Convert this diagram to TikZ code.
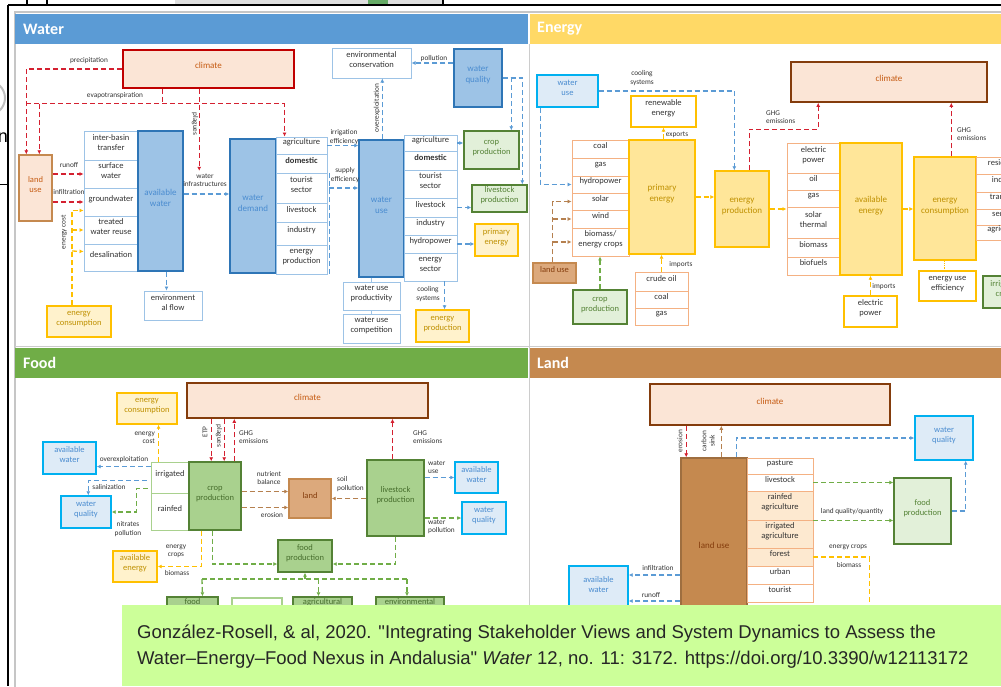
\documentclass[tikz,border=0pt]{standalone}
\usepackage{fontspec}
\setmainfont{Carlito}
\newfontfamily\citefont{Liberation Sans}
\usetikzlibrary{arrows.meta}
\usetikzlibrary{fit}

\definecolor{waterhead}{HTML}{5B9BD5}
\definecolor{energyhead}{HTML}{FFD966}
\definecolor{foodhead}{HTML}{70AD47}
\definecolor{landhead}{HTML}{C5894F}
\definecolor{wfill}{HTML}{9DC3E6}
\definecolor{wdraw}{HTML}{2E75B6}
\definecolor{wtext}{HTML}{4A8CD0}
\definecolor{wline}{HTML}{9DC3E6}
\definecolor{cyanline}{HTML}{00B0F0}
\definecolor{wlight}{HTML}{DEEBF7}
\definecolor{clfill}{HTML}{FBE5D6}
\definecolor{clred}{HTML}{C00000}
\definecolor{clbrown}{HTML}{843C0C}
\definecolor{cltext}{HTML}{C55A11}
\definecolor{efill}{HTML}{FFE699}
\definecolor{edraw}{HTML}{FFC000}
\definecolor{etext}{HTML}{BF9000}
\definecolor{elight}{HTML}{FFF2CC}
\definecolor{eline}{HTML}{F4B183}
\definecolor{glight}{HTML}{E2F0D9}
\definecolor{gmid}{HTML}{A9D18E}
\definecolor{gdraw}{HTML}{548235}
\definecolor{ldraw}{HTML}{C5894F}
\definecolor{lfill}{HTML}{DCA97C}
\definecolor{lpeach}{HTML}{FDE9D0}
\definecolor{reddash}{HTML}{D42030}
\definecolor{bluedash}{HTML}{5B9BD5}
\definecolor{yellowdash}{HTML}{FFC000}
\definecolor{greendash}{HTML}{70AD47}
\definecolor{browndash}{HTML}{B5804F}
\definecolor{citegreen}{HTML}{CCFF99}

\tikzset{
  every node/.style={inner sep=0pt, align=center, text=black!80, font=\fontsize{8.5}{10}\selectfont},
  headtxt/.style={anchor=west, text=white, font=\fontsize{16}{16}\selectfont\bfseries},
  lab/.style={font=\fontsize{7.3}{8.3}\selectfont},
  wbig/.style={draw=wdraw, fill=wfill, line width=1.4pt, text=wtext, font=\fontsize{9}{11}\selectfont},
  witem/.style={draw=wline, fill=white, line width=0.9pt, text width=#1, align=left},
  witem/.default=47pt,
  wwhite/.style={draw=wline, fill=white, line width=1pt},
  wlite/.style={draw=cyanline, fill=wlight, line width=1.4pt, text=wtext},
  clim/.style={draw=#1, fill=clfill, line width=1.6pt, text=cltext, font=\fontsize{9}{11}\selectfont},
  ebig/.style={draw=edraw, fill=efill, line width=1.4pt, text=etext, font=\fontsize{9}{11}\selectfont},
  elite/.style={draw=edraw, fill=elight, line width=1.4pt, text=etext},
  ewhite/.style={draw=edraw, fill=white, line width=1.2pt},
  eitem/.style={draw=eline, fill=white, line width=0.9pt},
  glite/.style={draw=gdraw, fill=glight, line width=1.4pt, text=gdraw},
  gbig/.style={draw=gdraw, fill=gmid, line width=1.4pt, text=gdraw!85!black},
  gitem/.style={draw=gmid, fill=white, line width=0.9pt, text width=33pt, align=left},
  lbox/.style={draw=ldraw, fill=lfill, line width=1.4pt, text=clbrown},
  lbig/.style={draw=ldraw!80!black, fill=landhead, line width=1.4pt, text=clbrown, font=\fontsize{9}{11}\selectfont},
  litem/.style={draw=eline, fill=#1, line width=0.9pt, text width=60pt, align=left},
  litem/.default=white,
  redarr/.style={draw=reddash, line width=1.3pt, dash pattern=on 5pt off 3pt, ->},
  bluearr/.style={draw=bluedash, line width=1.3pt, dash pattern=on 5pt off 3pt, ->},
  yelarr/.style={draw=yellowdash, line width=1.3pt, dash pattern=on 5pt off 3pt, ->},
  grnarr/.style={draw=greendash, line width=1.3pt, dash pattern=on 5pt off 3pt, ->},
  brnarr/.style={draw=browndash, line width=1.3pt, dash pattern=on 5pt off 3pt, ->},
}

\begin{document}
\begin{tikzpicture}[x=1pt, y=-1pt, >={Latex[length=4pt,width=4pt]}]
\useasboundingbox (0,0) rectangle (1001,686);
\clip (0,0) rectangle (1001,686);

% screenshot frame
\fill[white] (0,0) rectangle (1001,686);
\fill[gray!25] (175,0) rectangle (443,5);
\fill[green!45!black!60] (368,0) rectangle (388,5);
\draw[black, line width=2pt] (8,5) -- (1001,5);
\draw[black, line width=1.5pt] (8,5) -- (8,686);
\draw[black, line width=1.5pt] (27,0) -- (27,5) (47,0) -- (47,5) (443,0) -- (443,5);
\draw[black, line width=1pt] (0,184) -- (8,184);
\draw[gray!50, line width=2pt] (-12,98) circle (17);
\node[font=\citefont\fontsize{18}{18}\selectfont, text=black] (nchar) at (3,138) {n};
\draw[gray!45, line width=1.2pt] (15,12) rectangle (1010,700);
\draw[gray!40, line width=1pt] (529,44) -- (529,640);
\draw[gray!40, line width=1pt] (15,346) -- (1001,346);

% ---------------- Water ----------------
\fill[waterhead] (15,14) rectangle (528,44);
\node[headtxt] (hwater) at (23,29) {Water};

\node[clim=clred, fit={(123,50)(294,88)}] (wclim) {climate};
\node[draw=ldraw, fill=clfill, line width=1.4pt, text=cltext, fit={(19,155)(52,221)}] (wland) {land\\use};

\node[witem, fit={(84,131)(138,160)}] (ibt) {inter-basin\\transfer};
\node[witem, fit={(84,160)(138,188)}] (sw) {surface\\water};
\node[witem, fit={(84,188)(138,216)}] (gw) {groundwater};
\node[witem, fit={(84,216)(138,244)}] (twr) {treated\\water reuse};
\node[witem, fit={(84,244)(138,271)}] (desal) {desalination};
\node[wbig, fit={(138,131)(183,271)}] (avw) {available\\water};
\node[wwhite, fit={(144,291)(202,320)}] (envflow) {environment\\al flow};
\node[elite, fit={(47,306)(111,337)}] (wecons) {energy\\consumption};

\node[wbig, fit={(230,139)(276,273)}] (wdem) {water\\demand};
\node[witem=45pt, fit={(276,137)(327,154)}] (dagr) {agriculture};
\node[witem=45pt, fit={(276,154)(327,173)}] (ddom) {\textbf{domestic}};
\node[witem=45pt, fit={(276,173)(327,203)}] (dtour) {tourist\\sector};
\node[witem=45pt, fit={(276,203)(327,222)}] (dlive) {livestock};
\node[witem=45pt, fit={(276,222)(327,245)}] (dind) {industry};
\node[witem=45pt, fit={(276,245)(327,274)}] (deprod) {energy\\production};

\node[wbig, fit={(359,140)(404,277)}] (wuse) {water\\use};
\node[witem, fit={(404,135)(457,151)}] (uagr) {agriculture};
\node[witem, fit={(404,151)(457,170)}] (udom) {\textbf{domestic}};
\node[witem, fit={(404,170)(457,198)}] (utour) {tourist\\sector};
\node[witem, fit={(404,198)(457,217)}] (ulive) {livestock};
\node[witem, fit={(404,217)(457,235)}] (uind) {industry};
\node[witem, fit={(404,235)(457,253)}] (uhydro) {hydropower};
\node[witem, fit={(404,253)(457,281)}] (uesec) {energy\\sector};

\node[wwhite, fit={(332,48)(411,78)}] (envcons) {environmental\\conservation};
\node[wbig, fit={(454,49)(502,107)}] (wqual) {water\\quality};
\node[glite, fit={(464,131)(519,169)}] (wcrop) {crop\\production};
\node[glite, fit={(472,185)(527,212)}] (wlivest) {livestock\\production};
\node[elite, fit={(475,224)(518,256)}] (wprim) {primary\\energy};
\node[elite, fit={(416,310)(469,342)}] (weprod) {energy\\production};
\node[wwhite, fit={(343,282)(400,310)}] (wup) {water use\\productivity};
\node[wwhite, fit={(343,314)(400,343)}] (wuc) {water use\\competition};

\coordinate (precx) at ([xshift=8pt]wland.north west);
\coordinate (evapx) at ([xshift=21pt]wland.north west);
\coordinate (evap) at ([xshift=40pt,yshift=-15pt]wclim.south west);
\coordinate (plg) at ([xshift=77pt]wclim.south west);
\draw[redarr] (wclim.west) -| (precx);
\draw[redarr,-] ([xshift=40pt]wclim.south west) -- (evap);
\draw[redarr] (precx |- evap) -| ([xshift=9pt]dagr.north west);
\draw[redarr] (evapx |- evap) -- (evapx);
\draw[redarr] (plg) -- ++(0,82);
\node[lab] (lprec) at (89,61) {precipitation};
\node[lab] (levap) at (115,96) {evapotranspiration};
\node[lab, rotate=-90] (lplag) at (195,124) {plagues};

\draw[redarr] (wland.east |- sw.west) -- (sw.west);
\draw[redarr] (wland.east |- gw.west) -- (gw.west);
\node[lab] (lrun) at (69,165) {runoff};
\node[lab] (linf) at (69,192) {infiltration};

\coordinate (ecv) at ([xshift=-7pt]wecons.north);
\draw[yelarr] (ecv) |- ([yshift=6pt]gw.south west);
\draw[yelarr] (ecv |- twr.west) -- (twr.west);
\draw[yelarr] (ecv |- 0,251) -- ([yshift=6pt]desal.west);
\node[lab, rotate=90] (lecost) at (64,232) {energy cost};

\draw[bluearr] (avw.east |- 0,194) -- (wdem.west |- 0,194);
\node[lab] (linfra) at (205,180) {water\\infrastructures};
\draw[bluearr] ([xshift=6pt]avw.south) -- ([xshift=6pt]avw.south |- envflow.north);

\draw[bluearr] (dagr.east) -- (wuse.west |- dagr.east);
\node[lab] (lirreff) at (344,137) {irrigation\\efficiency};
\draw[bluearr,-] ([xshift=2pt]ddom.south east) -- ([xshift=2pt]deprod.south east);
\draw[bluearr] ([xshift=2pt]dtour.east) -- (wuse.west |- dtour.east);
\node[lab] (lsupeff) at (345,175) {supply\\efficiency};

\draw[bluearr] ([xshift=24pt]wuse.north west) -- ([xshift=24pt]wuse.north west |- envcons.south);
\node[lab, rotate=90] (loverw) at (377,108) {overexploitation};
\draw[bluearr] (wqual.west |- envcons.east) -- (envcons.east);
\node[lab] (lpoll) at (434,59) {pollution};
\draw[bluearr] (wqual.east) -| ([xshift=48pt]wcrop.north west);
\draw[bluearr] (wqual.east) -| ([xshift=51pt]wlivest.north west);

\draw[bluearr] (uagr.east) -- (wcrop.west |- uagr.east);
\draw[bluearr] (ulive.east) -- (wlivest.west |- ulive.east);
\draw[bluearr] (uhydro.east) -- (wprim.west |- uhydro.east);
\draw[bluearr] ([xshift=41pt]uesec.south west) -- ([xshift=41pt]uesec.south west |- weprod.north);
\node[lab] (lcoolw) at (428,294) {cooling\\systems};
\draw[wline, line width=1pt] (wuse.south -| wup.north) -- (wup.north);
\draw[wline, line width=1pt] (wup.south) -- (wuc.north);

% ---------------- Energy ----------------
\fill[energyhead] (530,14) rectangle (1001,44);
\node[headtxt] (henergy) at (537,29) {Energy};

\node[wlite, fit={(537,75)(598,107)}] (ewuse) {water\\use};
\node[ewhite, fit={(631,96)(696,127)}] (renew) {renewable\\energy};
\node[eitem, fit={(572,140)(629,158)}] (ecoal) {coal};
\node[eitem, fit={(572,158)(629,176)}] (egas) {gas};
\node[eitem, fit={(572,176)(629,193)}] (ehydro) {hydropower};
\node[eitem, fit={(572,193)(629,210)}] (esolar) {solar};
\node[eitem, fit={(572,210)(629,228)}] (ewind) {wind};
\node[eitem, fit={(572,228)(629,256)}] (ebio) {biomass/\\energy crops};
\node[ebig, fit={(629,140)(695,254)}] (prim) {primary\\energy};
\node[ebig, fit={(715,171)(769,247)}] (eprod) {energy\\production};
\node[lbox, fit={(533,263)(576,283)}] (eland) {land use};
\node[glite, fit={(573,290)(627,324)}] (ecrop) {crop\\production};
\node[eitem, fit={(635,272)(688,291)}] (icrude) {crude oil};
\node[eitem, fit={(635,291)(688,308)}] (icoal) {coal};
\node[eitem, fit={(635,308)(688,325)}] (igas) {gas};

\node[clim=clbrown, fit={(791,62)(987,102)}] (eclim) {climate};
\node[eitem, fit={(787,143)(840,173)}] (selec) {electric\\power};
\node[eitem, fit={(787,173)(840,190)}] (soil) {oil};
\node[eitem, fit={(787,190)(840,207)}] (sgas) {gas};
\node[eitem, fit={(787,207)(840,238)}] (ssolar) {solar\\thermal};
\node[eitem, fit={(787,238)(840,257)}] (sbiom) {biomass};
\node[eitem, fit={(787,257)(840,275)}] (sbiof) {biofuels};
\node[ebig, fit={(840,143)(902,275)}] (avail) {available\\energy};
\node[ebig, fit={(914,157)(976,260)}] (econs) {energy\\consumption};
\node[eitem, fit={(976,157)(1036,174)}] (cres) {residential};
\node[eitem, fit={(976,174)(1036,192)}] (cind) {industry};
\node[eitem, fit={(976,192)(1036,209)}] (ctra) {transport};
\node[eitem, fit={(976,209)(1036,225)}] (cser) {services};
\node[eitem, fit={(976,225)(1036,240)}] (cagr) {agriculture};
\node[ewhite, fit={(919,271)(976,301)}] (euse) {energy use\\efficiency};
\node[ewhite, fit={(844,296)(897,327)}] (eelec) {electric\\power};
\node[glite, fit={(983,276)(1027,308)}] (eirr) {irrigated\\crops};

\draw[bluearr] (ewuse.east) -| ([xshift=20pt]eprod.north west);
\node[lab] (lcoole) at (642,78) {cooling\\systems};
\draw[bluearr] ([xshift=4pt]ewuse.south west) |- (ehydro.west);
\draw[yelarr] (prim.north -| renew.south) -- (renew.south);
\node[lab] (lexp) at (677,135) {exports};
\draw[yelarr] (prim.east |- 0,197) -- (eprod.west |- 0,197);
\coordinate (elv) at ([xshift=-2pt]eland.north);
\draw[brnarr] (elv) |- (esolar.west);
\draw[brnarr] (elv |- ewind.west) -- (ewind.west);
\draw[brnarr] (elv |- ebio.west) -- (ebio.west);
\draw[grnarr] (ecrop.north) -- (ecrop.north |- ebio.south);
\draw[yelarr] (icrude.north) -- (icrude.north |- prim.south);
\node[lab] (limp1) at (681,265) {imports};
\draw[yelarr] (eprod.east) -- (eprod.east -| selec.west);
\draw[yelarr] (avail.east) -- (avail.east -| econs.west);
\draw[redarr] ([xshift=35pt]eprod.north west) -- ++(0,-41) -| ([xshift=28pt]eclim.south west);
\node[lab, anchor=west, align=left] (lghg1) at (766,117) {GHG\\emissions};
\draw[redarr] ([xshift=38pt]econs.north west) -- ([xshift=38pt]econs.north west |- eclim.south);
\node[lab, anchor=west, align=left] (lghg2) at (957,134) {GHG\\emissions};
\draw[edraw, line width=1.2pt, densely dotted] ([xshift=31pt]econs.south west) -- ([xshift=31pt]econs.south west |- euse.north);
\draw[yelarr] (eelec.north) -- (eelec.north |- avail.south);
\node[lab] (limp2) at (884,287) {imports};

% ---------------- Food ----------------
\fill[foodhead] (15,348) rectangle (528,378);
\node[headtxt] (hfood) at (23,363) {Food};

\node[clim=clbrown, fit={(187,383)(428,418)}] (fclim) {climate};
\node[elite, fit={(117,393)(177,424)}] (fecons) {energy\\consumption};
\node[wlite, fit={(43,442)(96,474)}] (favw) {available\\water};
\node[wlite, fit={(61,496)(111,528)}] (fwq) {water\\quality};
\node[gitem, fit={(151,462)(189,493)}] (firr) {irrigated};
\node[gitem, fit={(151,493)(189,530)}] (frain) {rainfed};
\node[gbig, fit={(189,462)(241,530)}] (fcrop) {crop\\production};
\node[elite, fit={(113,551)(157,582)}] (faven) {available\\energy};
\node[lbox, fit={(289,479)(331,518)}] (fland) {land};
\node[gbig, fit={(367,460)(424,536)}] (flive) {livestock\\production};
\node[wlite, fit={(455,462)(498,493)}] (favw2) {available\\water};
\node[wlite, fit={(462,502)(506,534)}] (fwq2) {water\\quality};
\node[gbig, fit={(278,540)(332,572)}] (ffood) {food\\production};
\node[gbig, fit={(167,597)(218,613)}] (fb1) {food};
\node[draw=gmid, fill=white, line width=1.2pt, fit={(232,598)(282,613)}] (fb2) {};
\node[gbig, fit={(293,597)(352,613)}] (fb3) {agricultural};
\node[gbig, fit={(376,597)(444,613)}] (fb4) {environmental};

\draw[redarr] ([xshift=25pt]fclim.south west) -- ([xshift=25pt]fclim.south west |- fcrop.north);
\draw[redarr] ([xshift=38pt]fclim.south west) -- ([xshift=38pt]fclim.south west |- fcrop.north);
\draw[redarr] ([xshift=46pt]fcrop.north west) -- ([xshift=46pt]fcrop.north west |- fclim.south);
\node[lab, rotate=90] (letp) at (205,432) {ETP};
\node[lab, rotate=-90] (lfplag) at (219,436) {plagues};
\node[lab, anchor=west, align=left] (lghg3) at (239,437) {GHG\\emissions};
\draw[yelarr] ([xshift=8pt]firr.north west) -- ([xshift=8pt]firr.north west |- fecons.south);
\node[lab, anchor=east, align=right] (lfcost) at (155,438) {energy\\cost};
\draw[bluearr] ([yshift=-5pt]firr.north west) -- ([yshift=-5pt]firr.north west -| favw.east);
\node[lab] (lfover) at (124,460) {overexploitation};
\draw[bluearr] ([xshift=-4pt,yshift=-19pt]firr.north west) -| ([xshift=28pt]fwq.north west);
\node[lab] (lsalin) at (109,487) {salinization};
\draw[grnarr] ([xshift=-3pt,yshift=5pt]firr.south west) -- ++(-11,0) |- (fwq.east);
\node[lab] (lnitr) at (128,529) {nitrates\\pollution};
\draw[yelarr] ([xshift=13pt]fcrop.south west) |- (faven.east);
\node[lab] (lecrop) at (176,551) {energy\\crops};
\node[lab] (lbiom) at (177,573) {biomass};
\draw[grnarr] ([xshift=24pt]fcrop.south west) |- ([yshift=-8pt]ffood.west);
\draw[grnarr] (flive.south) |- ([yshift=-8pt]ffood.east);
\coordinate (fbus) at (202,579);
\draw[grnarr,-] (fbus) -- ++(205,0);
\draw[grnarr] (fbus) -- ([xshift=10pt]fb1.north);
\draw[grnarr] (ffood.south |- fbus) -- (ffood.south);
\draw[grnarr] ([xshift=-4pt]fb3.north |- fbus) -- ([xshift=-4pt]fb3.north);
\draw[grnarr] ([xshift=-3pt]fb4.north |- fbus) -- ([xshift=-3pt]fb4.north);
\draw[brnarr] ([yshift=7pt]fland.west -| fcrop.east) -- ([yshift=7pt]fland.west);
\draw[brnarr] ([yshift=-9pt]fland.west -| fcrop.east) -- ([yshift=-9pt]fland.west);
\node[lab] (lnutr) at (269,478) {nutrient\\balance};
\node[lab] (lero) at (272,515) {erosion};
\draw[brnarr] (flive.west |- fland.east) -- (fland.east);
\node[lab, anchor=west, align=left] (lsoil) at (337,484) {soil\\pollution};
\draw[redarr] ([xshift=-3pt]flive.north) -- ([xshift=-3pt]flive.north |- fclim.south);
\node[lab, anchor=west, align=left] (lghg4) at (413,437) {GHG\\emissions};
\draw[bluearr] (flive.east |- favw2.west) -- (favw2.west);
\node[lab, anchor=west, align=left] (lwuse) at (428,467) {water\\use};
\draw[grnarr] (flive.east |- fwq2.west) -- (fwq2.west);
\node[lab, anchor=west, align=left] (lwpoll) at (428,527) {water\\pollution};

% ---------------- Land ----------------
\fill[landhead] (530,348) rectangle (1001,378);
\node[headtxt] (hland) at (537,363) {Land};

\node[clim=clbrown, fit={(650,384)(890,425)}] (lclim) {climate};
\node[wlite, fit={(915,416)(973,460)}] (lwq) {water\\quality};
\node[lbig, fit={(681,458)(747,640)}] (luse) {land use};
\node[litem, fit={(747,458)(813,474)}] (lpast) {pasture};
\node[litem, fit={(747,474)(813,491)}] (llive) {livestock};
\node[litem=lpeach, fit={(747,491)(813,520)}] (lrain) {rainfed\\agriculture};
\node[litem=lpeach, fit={(747,520)(813,548)}] (lirr) {irrigated\\agriculture};
\node[litem=lpeach, fit={(747,548)(813,566)}] (lfor) {forest};
\node[litem, fit={(747,566)(813,584)}] (lurb) {urban};
\node[litem, fit={(747,584)(813,602)}] (ltour) {tourist};
\node[glite, fit={(894,478)(951,544)}] (lfood) {food\\production};
\node[wlite, fit={(569,566)(628,610)}] (lavw) {available\\water};

\draw[redarr] ([xshift=37pt]lclim.south west) -- ([xshift=37pt]lclim.south west |- luse.north);
\node[lab, rotate=90] (lero2) at (680,441) {erosion};
\draw[brnarr] ([xshift=41pt]luse.north west) -- ([xshift=41pt]luse.north west |- lclim.south);
\node[lab, rotate=90] (lsink) at (708,441) {carbon\\sink};
\draw[bluearr] ([xshift=56pt]luse.north west) |- (lwq.west);
\draw[grnarr] (llive.east) -- (llive.east -| lfood.west);
\draw[grnarr] (lrain.south east) -- (lrain.south east -| lfood.west);
\node[lab] (lquant) at (852,512) {land quality/quantity};
\draw[bluearr] (lfood.east) -| ([xshift=-8pt]lwq.south east);
\draw[yelarr,-] (lfor.east) -- ++(56,0) -- ++(0,70);
\node[lab] (lecrop2) at (848,547) {energy crops};
\node[lab] (lbiom2) at (849,565) {biomass};
\draw[bluearr] (luse.west |- 0,575) -- (lavw.east |- 0,575);
\node[lab] (linf2) at (658,568) {infiltration};
\draw[bluearr] (luse.west |- 0,601) -- (lavw.east |- 0,601);
\node[lab] (lrun2) at (651,595) {runoff};

% ---------------- citation ----------------
\fill[citegreen] (122,605) rectangle (1001,686);
\node[anchor=north west, align=left, text=black!85, font=\citefont\fontsize{18.5}{26}\selectfont] (cite) at (137,625)
  {González-Rosell, \& al, 2020. "Integrating Stakeholder Views and System Dynamics to Assess the\\Water–Energy–Food Nexus in Andalusia" \textit{Water} 12, no. 11: 3172. https://doi.org/10.3390/w12113172};
\end{tikzpicture}
\end{document}
